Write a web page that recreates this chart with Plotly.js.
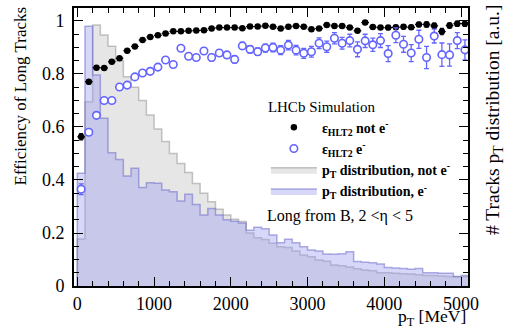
<!DOCTYPE html>
<html><head><meta charset="utf-8">
<script src="https://cdn.plot.ly/plotly-3.0.1.min.js"></script>
<style>html,body{margin:0;padding:0;background:#fff}</style>
</head><body>
<div id="chart" style="width:509px;height:328px"></div>
<script>
// Bin lower edges (MeV), 100 MeV bins
const binEdges = [0,100,200,300,400,500,600,700,800,900,1000,1100,1200,1300,1400,1500,1600,1700,1800,1900,2000,2100,2200,2300,2400,2500,2600,2700,2800,2900,3000,3100,3200,3300,3400,3500,3600,3700,3800,3900,4000,4100,4200,4300,4400,4500,4600,4700,4800,4900,5000];
const lastEdge = 5100;
// Bin centres for the efficiency points
const binCentres = [50,150,250,350,450,550,650,750,850,950,1050,1150,1250,1350,1450,1550,1650,1750,1850,1950,2050,2150,2250,2350,2450,2550,2650,2750,2850,2950,3050,3150,3250,3350,3450,3550,3650,3750,3850,3950,4050,4150,4250,4350,4450,4550,4650,4750,4850,4950,5050];

// pT distributions [a.u.]
const distNotE = [0.177,0.695,0.985,0.947,0.905,0.85,0.79,0.75,0.70,0.645,
  0.592,0.545,0.50,0.462,0.428,0.387,0.35,0.318,0.29,0.268,
  0.252,0.243,0.2,0.182,0.175,0.161,0.148,0.145,0.132,0.117,
  0.11,0.098,0.093,0.079,0.076,0.072,0.065,0.06,0.058,0.05,
  0.05,0.048,0.046,0.045,0.042,0.04,0.04,0.038,0.036,0.035,
  0.035];
const distE = [0.425,0.98,0.796,0.633,0.503,0.477,0.415,0.444,0.372,0.39,
  0.388,0.362,0.356,0.321,0.346,0.308,0.268,0.292,0.268,0.25,
  0.244,0.238,0.21,0.222,0.216,0.192,0.163,0.176,0.163,0.148,
  0.136,0.132,0.121,0.12,0.122,0.129,0.092,0.09,0.088,0.083,
  0.07,0.068,0.066,0.063,0.066,0.05,0.05,0.048,0.048,0.036,
  0.04];

// HLT2 efficiencies
const effNotE = [0.563,0.771,0.824,0.823,0.846,0.859,0.888,0.904,0.928,0.94,
  0.946,0.953,0.961,0.961,0.963,0.964,0.965,0.972,0.975,0.975,
  0.975,0.973,0.979,0.979,0.982,0.978,0.972,0.978,0.981,0.978,
  0.969,0.972,0.985,0.981,0.981,0.975,0.963,0.994,0.977,0.975,
  0.975,0.976,0.978,0.976,0.987,0.987,0.982,0.96,0.983,0.99,
  0.99];
const errNotE = [0.012,0.008,0.006,0.005,0.005,0.005,0.004,0.004,0.004,0.004,
  0.004,0.004,0.004,0.004,0.004,0.004,0.004,0.004,0.004,0.004,
  0.005,0.005,0.005,0.005,0.005,0.005,0.005,0.005,0.005,0.005,
  0.006,0.006,0.006,0.006,0.006,0.006,0.006,0.006,0.006,0.006,
  0.008,0.008,0.008,0.008,0.008,0.01,0.01,0.012,0.01,0.01,
  0.01];
const effE = [0.365,0.58,0.644,0.70,0.70,0.751,0.758,0.789,0.804,0.81,
  0.826,0.853,0.836,0.897,0.867,0.862,0.887,0.862,0.879,0.872,
  0.855,0.906,0.893,0.884,0.898,0.9,0.89,0.909,0.89,0.878,
  0.884,0.916,0.903,0.935,0.916,0.926,0.893,0.925,0.91,0.926,
  0.877,0.946,0.912,0.879,0.931,0.862,0.943,0.873,0.872,0.926,
  0.891];
const errE = [0.02,0.012,0.01,0.009,0.009,0.009,0.009,0.009,0.009,0.009,
  0.01,0.01,0.01,0.01,0.01,0.011,0.011,0.012,0.012,0.012,
  0.013,0.013,0.014,0.014,0.015,0.016,0.017,0.018,0.018,0.019,
  0.02,0.02,0.021,0.021,0.022,0.024,0.028,0.025,0.025,0.026,
  0.03,0.028,0.03,0.032,0.034,0.042,0.026,0.044,0.042,0.03,
  0.038];
const halfBin = 50;

function stepX(){ return [binEdges[0]].concat(binEdges, [lastEdge]); }
function stepY(v){ return [0].concat(v, [v[v.length-1]]); }

const serif = 'Liberation Serif, Times New Roman, serif';
const blue = '#6464ff';

const traces = [
  {x: stepX(), y: stepY(distNotE), type:'scatter', mode:'lines', line:{shape:'hv', color:'rgba(150,150,150,0.55)', width:1.5},
   fill:'tozeroy', fillcolor:'rgba(128,128,128,0.2)', name:'<b>p<sub>T</sub> distribution, not e<sup>-</sup></b>', legendrank:3, hoverinfo:'skip'},
  {x: stepX(), y: stepY(distE), type:'scatter', mode:'lines', line:{shape:'hv', color:'rgba(110,110,200,0.55)', width:1.5},
   fill:'tozeroy', fillcolor:'rgba(155,155,242,0.4)', name:'<b>p<sub>T</sub> distribution, e<sup>-</sup></b>', legendrank:4, hoverinfo:'skip'},
  {x: binCentres, y: effNotE, type:'scatter', mode:'markers', marker:{symbol:'circle', size:6.5, color:'#000'},
   error_y:{type:'data', array:errNotE, color:'#000', thickness:1.2, width:2},
   error_x:{type:'constant', value:halfBin, color:'#000', thickness:1.2, width:0},
   name:'<b>ε<sub>HLT2</sub> not e<sup>-</sup></b>', legendrank:1},
  {x: binCentres, y: effE, type:'scatter', mode:'markers', marker:{symbol:'circle', size:7.5, color:'#ffffff', line:{width:1.6, color:blue}},
   error_y:{type:'data', array:errE, color:blue, thickness:1.3, width:2.5},
   error_x:{type:'constant', value:halfBin, color:blue, thickness:1.3, width:0},
   name:'<b>ε<sub>HLT2</sub> e<sup>-</sup></b>', legendrank:2}
];

const axisCommon = {
  showgrid:false, zeroline:false, showline:true, linecolor:'#000', linewidth:2, mirror:'allticks',
  ticks:'inside', tickcolor:'#000', tickwidth:1.3, ticklen:9,
  tickfont:{family:serif, size:18, color:'#000'}
};

const layout = {
  width:509, height:328,
  margin:{l:74, r:41, t:8, b:42},
  paper_bgcolor:'#fff', plot_bgcolor:'#fff',
  font:{family:serif, size:18, color:'#000'},
  showlegend:true,
  xaxis: Object.assign({}, axisCommon, {range:[-43,5090], tick0:0, dtick:1000,
    minor:{dtick:200, tick0:0, ticks:'inside', ticklen:5, tickwidth:1.1, tickcolor:'#000'}}),
  yaxis: Object.assign({}, axisCommon, {range:[0,1.049], tick0:0, dtick:0.2, ticklabelstandoff:4,
    minor:{dtick:0.05, tick0:0, ticks:'inside', ticklen:5, tickwidth:1.1, tickcolor:'#000'}}),
  legend:{x:0.487, xanchor:'left', y:0.697, yanchor:'top', bgcolor:'rgba(0,0,0,0)', borderwidth:0,
    font:{family:serif, size:14, color:'#000'}, traceorder:'normal', itemwidth:46,
    title:{text:'LHCb Simulation', font:{family:serif, size:15, color:'#000'}}},
  annotations:[
    {text:'Efficiency of Long Tracks', xref:'paper', yref:'paper', x:-0.137, y:1.011, xanchor:'center', yanchor:'top',
     textangle:-90, showarrow:false, font:{family:serif, size:17}},
    {text:'# Tracks p<sub>T</sub> distribution [a.u.]', xref:'paper', yref:'paper', x:1.066, y:1.018, xanchor:'center', yanchor:'top',
     textangle:-90, showarrow:false, font:{family:serif, size:19.5}},
    {text:'p<sub>T</sub> [MeV]', xref:'paper', yref:'paper', x:1.0, y:-0.113, xanchor:'right', yanchor:'middle',
     showarrow:false, font:{family:serif, size:17.5}},
    {text:'Long from B, 2 &lt;η &lt; 5', xref:'paper', yref:'paper', x:0.485, y:0.252, xanchor:'left', yanchor:'middle',
     showarrow:false, font:{family:serif, size:16}}
  ]
};

Plotly.newPlot('chart', traces, layout, {displayModeBar:false, responsive:false});
</script>
</body></html>
